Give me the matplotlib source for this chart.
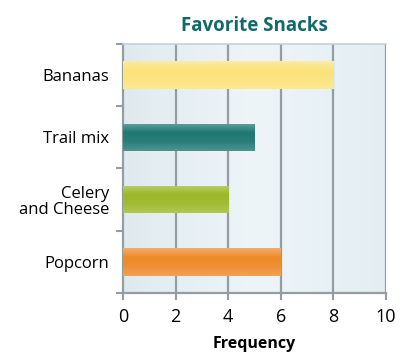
import matplotlib
matplotlib.use("Agg")
import matplotlib.pyplot as plt
import numpy as np
from matplotlib.colors import LinearSegmentedColormap

plt.rcParams["font.family"] = ["Open Sans", "DejaVu Sans"]

snacks = ["Popcorn", "Celery\nand Cheese", "Trail mix", "Bananas"]
frequency = [6, 4, 5, 8]
colors = ["#ee8a28", "#9db82a", "#1f7873", "#fbe37a"]
x_ticks = [0, 2, 4, 6, 8, 10]

TEAL = "#11696b"
GRID = "#949da2"


def _shade(hex_color, factor):
    c = np.array(matplotlib.colors.to_rgb(hex_color))
    if factor > 0:
        return tuple(c + (1 - c) * factor)
    return tuple(c * (1 + factor))


fig = plt.figure(figsize=(4.08, 3.62), dpi=100)
ax = fig.add_axes([0.3015, 0.1906, 0.6446, 0.688])

ax.set_xlim(0, 10)
ax.set_ylim(-0.5, len(snacks) - 0.5)

# light blue background gradient
bg = LinearSegmentedColormap.from_list("bg", ["#dfeaf0", "#eef5f8", "#e3eef3"])
grad = np.linspace(0, 1, 256).reshape(1, -1)
ax.imshow(grad, cmap=bg, aspect="auto", extent=(0, 10, -0.5, len(snacks) - 0.5),
          zorder=0)

for x in x_ticks[1:]:
    ax.axvline(x, color=GRID, lw=1.6, zorder=1)

bars = ax.barh(range(len(snacks)), frequency, height=0.44, color=colors, zorder=2)

# vertical shading on each bar
for bar, col in zip(bars, colors):
    cmap = LinearSegmentedColormap.from_list(
        "b", [_shade(col, 0.2), _shade(col, 0.05), col, _shade(col, 0.3)])
    vgrad = np.linspace(0, 1, 64).reshape(-1, 1)
    x0, y0 = bar.get_x(), bar.get_y()
    im = ax.imshow(vgrad, cmap=cmap, aspect="auto",
                   extent=(x0, x0 + bar.get_width(), y0, y0 + bar.get_height()),
                   origin="lower", zorder=3)
    im.set_clip_path(bar)

ax.set_xlim(0, 10)
ax.set_ylim(-0.5, len(snacks) - 0.5)

ax.set_yticks(range(len(snacks)))
ax.set_yticklabels(snacks, fontsize=12, linespacing=1.0)
ax.tick_params(axis="y", length=0, pad=10)
ax.set_yticks(np.arange(-0.5, len(snacks), 1.0), minor=True)
ax.tick_params(axis="y", which="minor", length=5, width=1.5, color=GRID)

ax.set_xticks(x_ticks)
ax.tick_params(axis="x", length=5, width=1.5, color=GRID, labelsize=13, pad=6)

for side in ["left", "bottom"]:
    ax.spines[side].set_color(GRID)
    ax.spines[side].set_linewidth(1.6)
ax.spines["right"].set_visible(False)
ax.spines["top"].set_color("#c8d0d4")
ax.spines["top"].set_linewidth(1.2)

ax.set_xlabel("Frequency", fontsize=11.5, fontweight="bold", labelpad=7)
ax.set_title("Favorite Snacks", fontsize=13.5, fontweight="bold", color=TEAL, pad=9)

fig.savefig("out.png", dpi=100)
